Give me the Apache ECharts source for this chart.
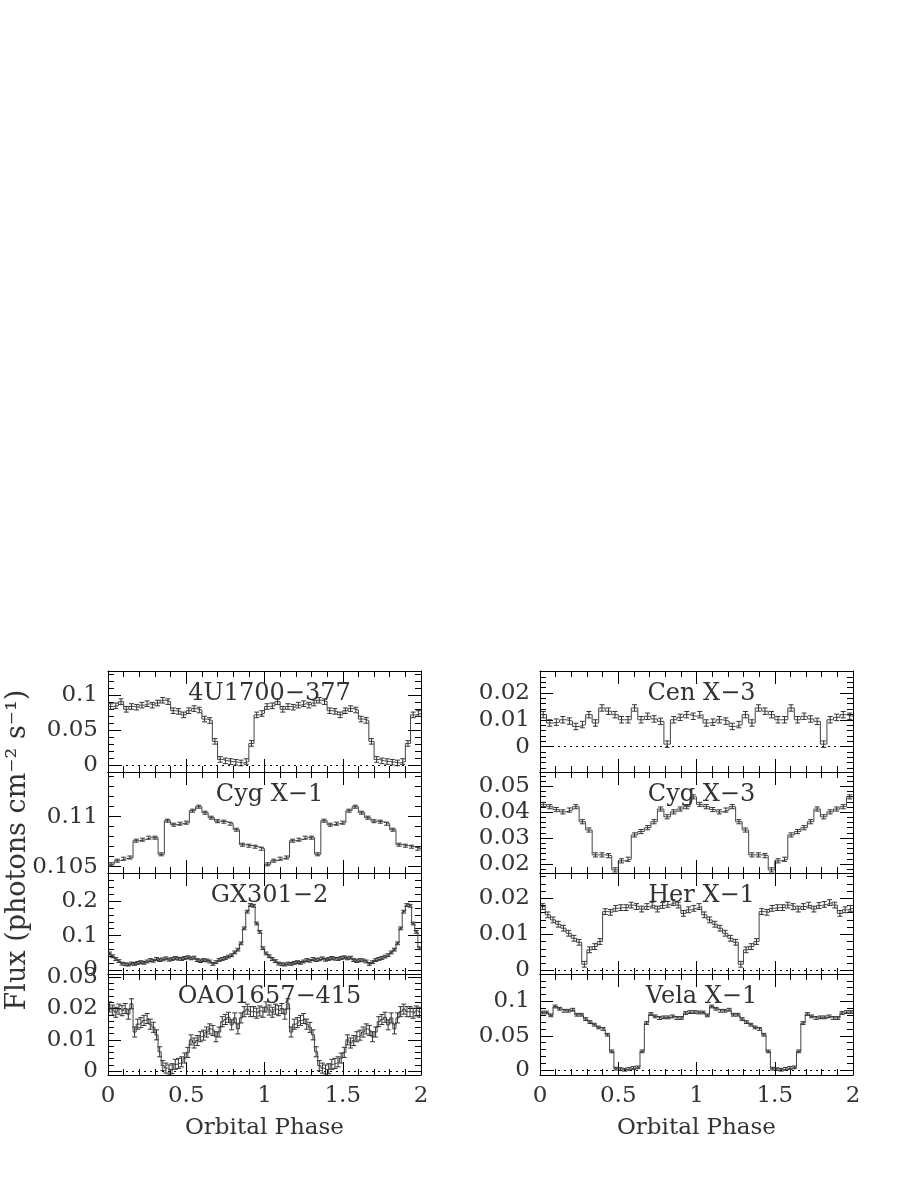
<!DOCTYPE html>
<html>
<head>
<meta charset="utf-8">
<script src="https://cdn.jsdelivr.net/npm/echarts@6/dist/echarts.min.js"></script>
<style>
html, body { margin: 0; padding: 0; background: #fff; }
#chart { width: 900px; height: 1198px; }
</style>
</head>
<body>
<div id="chart"></div>
<script>
// panels: left column top->bottom, then right column top->bottom
const names = ['4U1700\u2212377', 'Cyg X\u22121', 'GX301\u22122', 'OAO1657\u2212415',
               'Cen X\u22123', 'Cyg X\u22123', 'Her X\u22121', 'Vela X\u22121'];

// flux for one orbital cycle (phase 0-1), equal-width bins; plotted twice
const flux4U1700 = [0.084, 0.085, 0.091, 0.080, 0.084, 0.083, 0.086, 0.088, 0.086, 0.089,
                    0.093, 0.091, 0.078, 0.077, 0.072, 0.078, 0.081, 0.079, 0.066, 0.064,
                    0.034, 0.008, 0.006, 0.005, 0.004, 0.003, 0.005, 0.031, 0.072, 0.074];
const fluxCygX1 = [0.10524, 0.10560, 0.10580, 0.10592, 0.10760, 0.10770, 0.10790, 0.10790, 0.10624, 0.10960,
                   0.10920, 0.10930, 0.10940, 0.11060, 0.11100, 0.11040, 0.10990, 0.10955, 0.10950, 0.10930,
                   0.10870, 0.10720, 0.10710, 0.10700, 0.10680];
const fluxGX301 = [0.049, 0.041, 0.033, 0.027, 0.020, 0.018, 0.017, 0.020, 0.019, 0.022,
                   0.024, 0.022, 0.026, 0.030, 0.028, 0.033, 0.030, 0.032, 0.035, 0.031,
                   0.033, 0.036, 0.034, 0.033, 0.036, 0.038, 0.035, 0.037, 0.030, 0.027,
                   0.030, 0.029, 0.026, 0.019, 0.024, 0.030, 0.033, 0.036, 0.040, 0.044,
                   0.052, 0.060, 0.078, 0.121, 0.169, 0.188, 0.186, 0.135, 0.111, 0.064];
const fluxOAO1657 = [0.0205, 0.0195, 0.0188, 0.0198, 0.0193, 0.0200, 0.0182, 0.0215, 0.0125, 0.0150,
                     0.0155, 0.0162, 0.0168, 0.0150, 0.0140, 0.0116, 0.0062, 0.0018, 0.0010, 0.0004,
                     0.0008, 0.0022, 0.0025, 0.0030, 0.0042, 0.0060, 0.0100, 0.0090, 0.0098, 0.0110,
                     0.0115, 0.0125, 0.0135, 0.0130, 0.0110, 0.0125, 0.0158, 0.0165, 0.0172, 0.0148,
                     0.0170, 0.0135, 0.0170, 0.0190, 0.0198, 0.0190, 0.0190, 0.0185, 0.0192, 0.0188];
const fluxCenX3 = [0.0119, 0.0088, 0.0091, 0.0100, 0.0095, 0.0075, 0.0082, 0.0119, 0.0088, 0.0144,
                   0.0132, 0.0119, 0.0100, 0.0100, 0.0144, 0.0100, 0.0113, 0.0103, 0.0094, 0.0009,
                   0.0100, 0.0109, 0.0119, 0.0113];
const fluxCygX3 = [0.0430, 0.0421, 0.0410, 0.0401, 0.0408, 0.0421, 0.0363, 0.0331, 0.0235, 0.0235,
                   0.0232, 0.0177, 0.0212, 0.0218, 0.0312, 0.0325, 0.0340, 0.0363, 0.0412, 0.0382,
                   0.0401, 0.0412, 0.0421, 0.0459];
const fluxHerX1 = [0.0177, 0.0154, 0.0140, 0.0128, 0.0117, 0.0103, 0.0089, 0.0078, 0.0017, 0.0057,
                   0.0066, 0.0080, 0.0163, 0.0161, 0.0172, 0.0174, 0.0174, 0.0181, 0.0177, 0.0170,
                   0.0177, 0.0181, 0.0170, 0.0180, 0.0183, 0.0188, 0.0181, 0.0158, 0.0168, 0.0172];
const fluxVelaX1 = [0.0840, 0.0840, 0.0798, 0.0927, 0.0894, 0.0865, 0.0865, 0.0880, 0.0807, 0.0807,
                    0.0744, 0.0700, 0.0662, 0.0622, 0.0600, 0.0516, 0.0274, 0.0022, 0.0015, 0.0007,
                    0.0020, 0.0032, 0.0041, 0.0274, 0.0686, 0.0817, 0.0783, 0.0759, 0.0769, 0.0769,
                    0.0783, 0.0759, 0.0760, 0.0832, 0.0846, 0.0846];

const fluxes = [flux4U1700, fluxCygX1, fluxGX301, fluxOAO1657, fluxCenX3, fluxCygX3, fluxHerX1, fluxVelaX1];
// 1-sigma error per panel
const fluxErr = [0.004, 0.00015, 0.004, 0.0016, 0.0012, 0.0008, 0.0008, 0.002];

// y axis ranges and labelled tick step
const yMin = [-0.01, 0.10437, -0.01, -0.0012, -0.0095, 0.0165, -0.001, -0.007];
const yMax = [0.135, 0.11447, 0.28, 0.031, 0.0282, 0.0555, 0.027, 0.14];
const yStep = [0.05, 0.005, 0.1, 0.01, 0.01, 0.01, 0.01, 0.05];
const phaseMin = 0, phaseMax = 2, phaseStep = 0.5;

const FONT = 'DejaVu Serif';
const TXT = '#333';
const colLeft = [108, 540];
const rowTop = [671, 772, 873, 974];
const panelW = 313, panelH = 101;

function histogram(vals) {
  const w = 1 / vals.length, pts = [];
  for (let c = 0; c < 2; c++) {
    vals.forEach((v, i) => { pts.push([c + i * w, v], [c + (i + 1) * w, v]); });
  }
  return pts;
}
function errBars(vals, e) {
  const w = 1 / vals.length, out = [];
  for (let c = 0; c < 2; c++) {
    vals.forEach((v, i) => out.push([c + (i + 0.5) * w, v - e, v + e]));
  }
  return out;
}
function fmt(v) { return String(parseFloat(v.toFixed(4))); }

const axisStroke = { color: '#000', width: 1 };
const grid = [], xAxis = [], yAxis = [], series = [], title = [];

names.forEach((name, k) => {
  const col = k < 4 ? 0 : 1, row = k % 4;
  const isBottom = row === 3;
  grid.push({ left: colLeft[col], top: rowTop[row], width: panelW, height: panelH });

  ['bottom', 'top'].forEach(pos => {
    const lab = isBottom && pos === 'bottom';
    xAxis.push({
      gridIndex: k, type: 'value', position: pos,
      min: phaseMin, max: phaseMax, interval: phaseStep,
      axisLine: { show: true, onZero: false, lineStyle: axisStroke },
      axisTick: { show: true, inside: true, length: 13, lineStyle: axisStroke },
      minorTick: { show: true, splitNumber: 5, length: 6, lineStyle: axisStroke },
      splitLine: { show: false },
      axisLabel: { show: lab, margin: 10, fontFamily: FONT, fontSize: 23, color: TXT, formatter: fmt },
      name: lab ? 'Orbital Phase' : '',
      nameLocation: 'middle', nameGap: 42,
      nameTextStyle: { fontFamily: FONT, fontSize: 23, color: TXT }
    });
  });

  const step = yStep[k];
  ['left', 'right'].forEach(pos => {
    yAxis.push({
      gridIndex: k, type: 'value', position: pos,
      min: yMin[k], max: yMax[k], minInterval: step, maxInterval: step,
      axisLine: { show: true, onZero: false, lineStyle: axisStroke },
      axisTick: { show: true, inside: true, length: 13, lineStyle: axisStroke },
      minorTick: { show: true, splitNumber: 5, length: 6, lineStyle: axisStroke },
      splitLine: { show: false },
      axisLabel: {
        show: pos === 'left', margin: 10, fontFamily: FONT, fontSize: 23, color: TXT,
        formatter: v => (Math.abs(v / step - Math.round(v / step)) < 1e-6 ? fmt(v) : '')
      }
    });
  });

  title.push({
    text: name, left: colLeft[col] + panelW / 2, top: rowTop[row] + 6, textAlign: 'center',
    textStyle: { fontFamily: FONT, fontSize: 24, fontWeight: 'normal', color: TXT }
  });

  const line = {
    type: 'line', xAxisIndex: 2 * k, yAxisIndex: 2 * k,
    data: histogram(fluxes[k]), showSymbol: false, symbol: 'none',
    lineStyle: { color: '#444', width: 1 }, silent: true, z: 3
  };
  if (yMin[k] < 0) {
    line.markLine = {
      silent: true, symbol: ['none', 'none'], label: { show: false },
      lineStyle: { type: [2, 4], color: '#000', width: 1 },
      data: [{ yAxis: 0 }]
    };
  }
  series.push(line);

  series.push({
    type: 'custom', xAxisIndex: 2 * k, yAxisIndex: 2 * k, clip: true, silent: true, z: 4,
    data: errBars(fluxes[k], fluxErr[k]),
    renderItem: (params, api) => {
      const x = api.value(0);
      const lo = api.coord([x, api.value(1)]);
      const hi = api.coord([x, api.value(2)]);
      const cap = 2.5, st = { stroke: '#333', lineWidth: 1 };
      return {
        type: 'group',
        children: [
          { type: 'line', shape: { x1: lo[0], y1: lo[1], x2: hi[0], y2: hi[1] }, style: st },
          { type: 'line', shape: { x1: lo[0] - cap, y1: lo[1], x2: lo[0] + cap, y2: lo[1] }, style: st },
          { type: 'line', shape: { x1: hi[0] - cap, y1: hi[1], x2: hi[0] + cap, y2: hi[1] }, style: st }
        ]
      };
    }
  });
});

const chart = echarts.init(document.getElementById('chart'), null, { renderer: 'canvas' });
chart.setOption({
  animation: false,
  backgroundColor: '#fff',
  title: title,
  grid: grid,
  xAxis: xAxis,
  yAxis: yAxis,
  series: series,
  graphic: [{
    type: 'text', x: 18, y: 850, rotation: Math.PI / 2,
    style: {
      text: 'Flux (photons cm\u207B\u00B2 s\u207B\u00B9)',
      fontFamily: FONT, fontSize: 27, fill: TXT,
      align: 'center', verticalAlign: 'middle'
    }
  }]
});
</script>
</body>
</html>
